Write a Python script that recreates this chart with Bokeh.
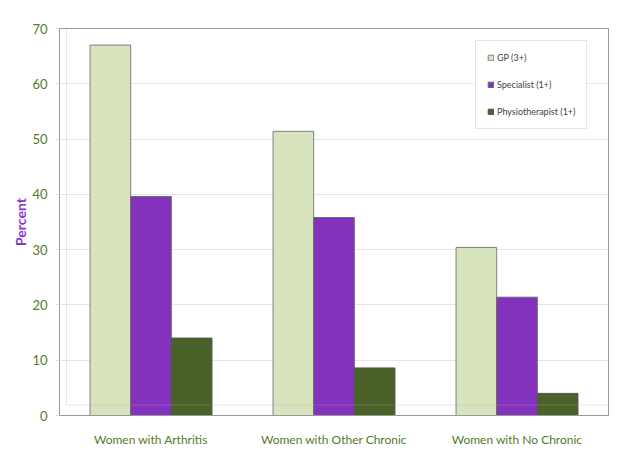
from bokeh.plotting import figure
from bokeh.models import ColumnDataSource, FactorRange, Range1d, FixedTicker, Legend, LegendItem, BoxAnnotation
from bokeh.transform import dodge
from bokeh.embed import file_html
from bokeh.resources import INLINE

categories = ["Women with Arthritis", "Women with Other Chronic", "Women with No Chronic"]
gp = [67.0, 51.4, 30.4]
specialist = [39.6, 35.8, 21.4]
physio = [14.0, 8.6, 4.0]
series_names = ["GP (3+)", "Specialist (1+)", "Physiotherapist (1+)"]
y_ticks = [0, 10, 20, 30, 40, 50, 60, 70]

colors = ["#d7e4bd", "#8431bd", "#4a6228"]
FONT = "Lato"

src = ColumnDataSource(dict(cat=categories, gp=gp, sp=specialist, ph=physio))

p = figure(x_range=FactorRange(factors=categories, range_padding=0),
           y_range=Range1d(0, 70),
           width=622, height=453, output_backend="svg", toolbar_location=None,
           min_border_left=59, min_border_right=14, min_border_top=28, min_border_bottom=38)

frame_box = BoxAnnotation(left=7, right=700, top=10.5, bottom=700,
                          left_units="screen", right_units="screen",
                          top_units="screen", bottom_units="screen",
                          fill_alpha=0, line_color="#b0b0b0", line_width=1,
                          propagate_hover=False, editable=False)
p.add_layout(frame_box)

w = 0.222
r1 = p.vbar(x=dodge("cat", -w, range=p.x_range), top="gp", width=w, source=src,
            fill_color=colors[0], line_color="#808080", line_width=1)
r2 = p.vbar(x=dodge("cat", 0, range=p.x_range), top="sp", width=w, source=src,
            fill_color=colors[1], line_color="#6a6a6a", line_width=1)
r3 = p.vbar(x=dodge("cat", w, range=p.x_range), top="ph", width=w, source=src,
            fill_color=colors[2], line_color="#505050", line_width=1)

legend = Legend(items=[LegendItem(label=series_names[0], renderers=[r1]),
                       LegendItem(label=series_names[1], renderers=[r2]),
                       LegendItem(label=series_names[2], renderers=[r3])],
                location=(416, 286))
legend.label_text_font = FONT
legend.label_text_font_size = "9px"
legend.label_text_color = "#444444"
legend.glyph_width = 7
legend.glyph_height = 7
legend.label_height = 8
legend.spacing = 16
legend.padding = 11
legend.margin = 0
legend.label_standoff = 3
legend.border_line_color = "#cccccc"
legend.background_fill_alpha = 1
legend.label_text_baseline = "middle"
p.add_layout(legend, "center")

p.outline_line_color = "#999999"
p.xgrid.grid_line_color = None
p.ygrid.grid_line_color = "#e6e6e6"
p.ygrid.ticker = FixedTicker(ticks=y_ticks)

p.yaxis.ticker = FixedTicker(ticks=y_ticks)
p.yaxis.axis_label = "Percent"
p.yaxis.axis_label_text_font = FONT
p.yaxis.axis_label_text_font_style = "bold"
p.yaxis.axis_label_text_color = "#8a35c9"
p.yaxis.axis_label_text_font_size = "14px"
p.yaxis.axis_label_standoff = 0
p.yaxis.major_label_text_font = FONT
p.yaxis.major_label_text_font_size = "13px"
p.yaxis.major_label_text_color = "#557a2a"
p.yaxis.major_label_standoff = 8
p.yaxis.axis_line_color = "#999999"
p.yaxis.major_tick_line_color = "#dddddd"
p.yaxis.major_tick_in = 0
p.yaxis.major_tick_out = 4
p.yaxis.minor_tick_line_color = None

p.xaxis.major_label_text_font = FONT
p.xaxis.major_label_text_font_size = "12px"
p.xaxis.major_label_text_color = "#557a2a"
p.xaxis.major_label_standoff = 10
p.xaxis.axis_line_color = "#999999"
p.xaxis.major_tick_line_color = None
p.xaxis.minor_tick_line_color = None

open("out.html", "w").write(file_html(p, INLINE))
